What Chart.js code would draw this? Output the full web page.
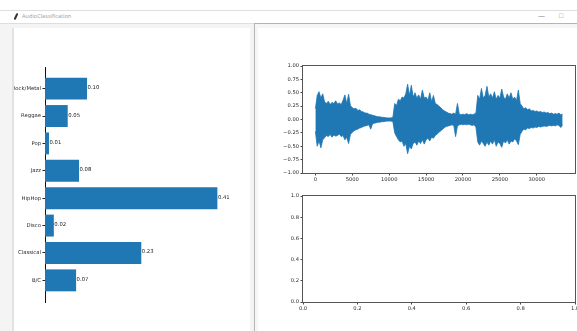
<!DOCTYPE html>
<html>
<head>
<meta charset="utf-8">
<script src="https://cdn.jsdelivr.net/npm/chart.js@4.4.0/dist/chart.umd.min.js"></script>
<style>
html, body { margin: 0; padding: 0; }
body { width: 577px; height: 331px; overflow: hidden; position: relative; background: #fff; font-family: 'Open Sans', sans-serif; }
#titlebar { position: absolute; left: 0; top: 10px; width: 577px; height: 12px; border-top: 1px solid #dedede; border-bottom: 1px solid #dedede; background: #fff; }
#titlebar .name { position: absolute; left: 22px; top: 1px; font-size: 5.6px; color: #9a9a9a; }
#titlebar .icon { position: absolute; left: 15px; top: 2px; width: 2px; height: 7px; background: #333; transform: rotate(25deg); border-radius: 1px; }
#titlebar .btn { position: absolute; top: 0px; font-size: 7px; color: #8a8a8a; }
#frame { position: absolute; left: 0; top: 24px; width: 577px; height: 307px; background: #f4f4f4; }
#left { position: absolute; left: 12px; top: 28px; width: 236px; height: 303px; background: #fff; overflow: hidden; border-left: 2px solid #e2e2e2; }
#right { position: absolute; left: 254px; top: 23px; width: 323px; height: 308px; background: #f6f6f6; border-left: 1px solid #b4b4b4; border-top: 1px solid #b4b4b4; }
#rightInner { position: absolute; left: 258px; top: 28px; width: 319px; height: 303px; background: #fff; }
canvas { position: absolute; }
</style>
</head>
<body>
<div id="titlebar">
  <div class="icon"></div>
  <span class="name">AudioClassification</span>
  <span class="btn" style="left:538px">&#8212;</span>
  <span class="btn" style="left:559px">&#9633;</span>
</div>
<div id="frame"></div>
<div id="left">
  <canvas id="genreChart" width="250" height="303" style="left:-14px;top:0"></canvas>
</div>
<div id="right"></div>
<div id="rightInner"></div>
<canvas id="waveChart" width="340" height="131" style="left:256px;top:56px"></canvas>
<canvas id="emptyChart" width="340" height="130" style="left:256px;top:186px"></canvas>

<script>
// Genre probabilities (top to bottom as shown)
const genres = ['Rock/Metal', 'Reggae', 'Pop', 'Jazz', 'HipHop', 'Disco', 'Classical', 'B/C'];
const probs = [0.100, 0.054, 0.0095, 0.081, 0.410, 0.021, 0.229, 0.074];

// Waveform envelope, one value per 250 samples
const hopSize = 250;
const waveUpper = [
    0.20, 0.45, 0.52, 0.40, 0.48, 0.33, 0.30, 0.34, 0.28, 0.32,
    0.30, 0.35, 0.29, 0.31, 0.28, 0.36, 0.46, 0.30, 0.47, 0.26,
    0.22, 0.20, 0.21, 0.17, 0.18, 0.15, 0.14, 0.12, 0.12, 0.10,
    0.09, 0.08, 0.07, 0.06, 0.05, 0.05, 0.04, 0.04, 0.035, 0.03,
    0.03, 0.03, 0.04, 0.30, 0.26, 0.38, 0.35, 0.42, 0.40, 0.48,
    0.66, 0.45, 0.64, 0.42, 0.50, 0.40, 0.46, 0.38, 0.55, 0.40,
    0.42, 0.36, 0.50, 0.33, 0.45, 0.30, 0.28, 0.25, 0.22, 0.18,
    0.16, 0.14, 0.12, 0.11, 0.10, 0.12, 0.10, 0.30, 0.10, 0.09,
    0.10, 0.09, 0.11, 0.09, 0.10, 0.09, 0.10, 0.12, 0.45, 0.38,
    0.58, 0.40, 0.45, 0.62, 0.42, 0.48, 0.40, 0.52, 0.38, 0.45,
    0.40, 0.57, 0.42, 0.38, 0.48, 0.40, 0.50, 0.38, 0.42, 0.35,
    0.55, 0.30, 0.25, 0.20, 0.22, 0.18, 0.20, 0.16, 0.17, 0.15,
    0.16, 0.14, 0.15, 0.13, 0.14, 0.12, 0.13, 0.11, 0.12, 0.10,
    0.11, 0.10, 0.12, 0.09, 0.10
];
const waveLower = [
    -0.22, -0.50, -0.40, -0.53, -0.38, -0.34, -0.30, -0.32, -0.28, -0.33,
    -0.29, -0.31, -0.30, -0.27, -0.32, -0.30, -0.38, -0.33, -0.45, -0.28,
    -0.24, -0.21, -0.19, -0.18, -0.16, -0.15, -0.13, -0.12, -0.11, -0.10,
    -0.18, -0.08, -0.07, -0.06, -0.05, -0.05, -0.04, -0.04, -0.035, -0.03,
    -0.03, -0.03, -0.04, -0.25, -0.32, -0.38, -0.42, -0.40, -0.50, -0.45,
    -0.64, -0.50, -0.55, -0.45, -0.42, -0.48, -0.40, -0.45, -0.38, -0.46,
    -0.38, -0.35, -0.40, -0.33, -0.35, -0.30, -0.27, -0.24, -0.21, -0.18,
    -0.15, -0.13, -0.12, -0.11, -0.10, -0.11, -0.32, -0.12, -0.10, -0.09,
    -0.10, -0.09, -0.10, -0.09, -0.10, -0.11, -0.10, -0.14, -0.42, -0.48,
    -0.40, -0.45, -0.50, -0.42, -0.48, -0.40, -0.46, -0.38, -0.50, -0.42,
    -0.45, -0.52, -0.40, -0.44, -0.38, -0.46, -0.40, -0.42, -0.36, -0.40,
    -0.47, -0.28, -0.22, -0.18, -0.19, -0.16, -0.17, -0.15, -0.16, -0.14,
    -0.15, -0.13, -0.14, -0.13, -0.12, -0.13, -0.12, -0.11, -0.12, -0.11,
    -0.12, -0.10, -0.11, -0.15, -0.10
];
const waveXTicks = [0, 5000, 10000, 15000, 20000, 25000, 30000];
const waveYTicks = [-1, -0.75, -0.5, -0.25, 0, 0.25, 0.5, 0.75, 1];
const emptyTicks = [0, 0.2, 0.4, 0.6, 0.8, 1.0];

const BLUE = '#1f77b4';
const tickFont = { family: "'DejaVu Sans', sans-serif", size: 5.2 };
const tickColor = '#2a2a2a';
const minus = (s) => s.replace('-', '\u2212');

// matplotlib style box around the axes
const boxPlugin = {
    id: 'box',
    afterDraw(chart) {
        const { ctx, chartArea: a } = chart;
        ctx.save();
        ctx.strokeStyle = '#555';
        ctx.lineWidth = 1;
        ctx.strokeRect(Math.round(a.left) - 0.5, Math.round(a.top) - 0.5,
            Math.round(a.right - a.left) + 1, Math.round(a.bottom - a.top) + 1);
        ctx.restore();
    }
};

// value text at the end of each bar
const valueLabels = {
    id: 'valueLabels',
    afterDatasetsDraw(chart) {
        const { ctx } = chart;
        const meta = chart.getDatasetMeta(0);
        ctx.save();
        ctx.font = "5.3px 'DejaVu Sans', sans-serif";
        ctx.fillStyle = '#222';
        ctx.textBaseline = 'alphabetic';
        ctx.textAlign = 'left';
        meta.data.forEach((bar, i) => {
            ctx.fillText(probs[i].toFixed(2), bar.x + 0.5, bar.y + 0.5);
        });
        ctx.restore();
    }
};

const outsideTicks = {
    grid: { display: true, drawOnChartArea: false, drawTicks: true, tickLength: 2.5, color: '#444', offset: false },
    border: { display: false }
};

// Genre bar chart
new Chart(document.getElementById('genreChart'), {
    type: 'bar',
    data: {
        datasets: [{
            data: probs.map((v, i) => ({ x: v, y: i })),
            backgroundColor: BLUE,
            borderWidth: 0,
            barPercentage: 0.8,
            categoryPercentage: 1
        }]
    },
    plugins: [valueLabels],
    options: {
        indexAxis: 'y',
        responsive: false,
        animation: false,
        layout: { padding: { left: 0, top: 39, right: 24, bottom: 29 } },
        plugins: { legend: { display: false }, tooltip: { enabled: false } },
        scales: {
            x: { type: 'linear', display: false, min: 0, max: 0.4305, offset: false },
            y: {
                type: 'linear', reverse: true, min: -0.79, max: 7.79, offset: false,
                afterBuildTicks: (s) => { s.ticks = genres.map((g, i) => ({ value: i })); },
                afterFit: (s) => { s.width = 45; },
                ticks: { callback: (v) => genres[v], font: { family: "'DejaVu Sans', sans-serif", size: 5.3 }, color: tickColor, padding: 1.5 },
                grid: { display: true, drawOnChartArea: false, drawTicks: true, tickLength: 2.5, color: '#222', offset: false },
                border: { display: true, color: '#111', width: 1 }
            }
        }
    }
});

// Waveform
const upperPts = waveUpper.map((v, i) => ({ x: i * hopSize, y: v }));
const lowerPts = waveLower.map((v, i) => ({ x: i * hopSize, y: v }));

new Chart(document.getElementById('waveChart'), {
    type: 'line',
    data: {
        datasets: [
            { data: upperPts, borderColor: BLUE, backgroundColor: BLUE, borderWidth: 0.8, pointRadius: 0, fill: '+1', tension: 0 },
            { data: lowerPts, borderColor: BLUE, backgroundColor: BLUE, borderWidth: 0.8, pointRadius: 0, fill: false, tension: 0 }
        ]
    },
    plugins: [boxPlugin],
    options: {
        responsive: false,
        animation: false,
        layout: { padding: { left: 0, top: 10, right: 21, bottom: 0 } },
        plugins: { legend: { display: false }, tooltip: { enabled: false } },
        scales: {
            x: {
                type: 'linear', min: -1675, max: 35175,
                afterBuildTicks: (s) => { s.ticks = waveXTicks.map(v => ({ value: v })); },
                afterFit: (s) => { s.height = 14; },
                ticks: { callback: (v) => String(v), font: tickFont, color: tickColor, padding: 1.5, maxRotation: 0 },
                ...outsideTicks
            },
            y: {
                min: -1, max: 1,
                afterBuildTicks: (s) => { s.ticks = waveYTicks.map(v => ({ value: v })); },
                afterFit: (s) => { s.width = 47; },
                ticks: { callback: (v) => minus(v.toFixed(2)), font: tickFont, color: tickColor, padding: 1.5 },
                ...outsideTicks
            }
        }
    }
});

// Empty axes below the waveform
new Chart(document.getElementById('emptyChart'), {
    type: 'scatter',
    data: { datasets: [{ data: [] }] },
    plugins: [boxPlugin],
    options: {
        responsive: false,
        animation: false,
        layout: { padding: { left: 0, top: 10, right: 21, bottom: 0 } },
        plugins: { legend: { display: false }, tooltip: { enabled: false } },
        scales: {
            x: {
                type: 'linear', min: 0, max: 1,
                afterBuildTicks: (s) => { s.ticks = emptyTicks.map(v => ({ value: v })); },
                afterFit: (s) => { s.height = 14; },
                ticks: { callback: (v) => v.toFixed(1), font: tickFont, color: tickColor, padding: 1.5, maxRotation: 0 },
                ...outsideTicks
            },
            y: {
                type: 'linear', min: 0, max: 1,
                afterBuildTicks: (s) => { s.ticks = emptyTicks.map(v => ({ value: v })); },
                afterFit: (s) => { s.width = 47; },
                ticks: { callback: (v) => v.toFixed(1), font: tickFont, color: tickColor, padding: 1.5 },
                ...outsideTicks
            }
        }
    }
});
</script>
</body>
</html>
